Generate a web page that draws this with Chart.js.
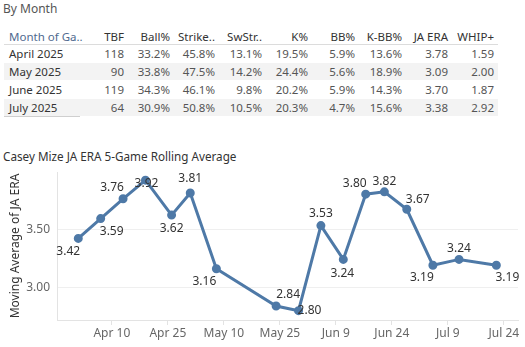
<!DOCTYPE html>
<html>
<head>
<meta charset="utf-8">
<script src="https://cdn.jsdelivr.net/npm/chart.js@4.4.0/dist/chart.umd.min.js"></script>
<style>
  body { margin: 0; width: 525px; height: 347px; overflow: hidden; background: #fff; position: relative; font-family: "Noto Sans", sans-serif; }
  #tituloTabla { position: absolute; left: 3px; top: 0px; font-size: 12px; color: #555; }
  #tabla { position: absolute; left: 0; top: 0; width: 525px; height: 130px; }
  .fila { position: absolute; left: 4px; width: 494px; }
  .celda { position: absolute; font-size: 11.5px; white-space: nowrap; line-height: 17px; }
  #tituloGrafico { position: absolute; left: 3px; top: 148px; font-size: 11.7px; color: #333; }
  #wrap { position: absolute; left: 0; top: 140px; width: 525px; height: 207px; }
</style>
</head>
<body>
<div id="tituloTabla">By Month</div>
<div id="tabla"></div>
<div id="tituloGrafico">Casey Mize JA ERA 5-Game Rolling Average</div>
<div id="wrap"><canvas id="eraChart" width="525" height="207"></canvas></div>

<script>
// Tabla por mes
var encabezados = ['Month of Ga..', 'TBF', 'Ball%', 'Strike..', 'SwStr..', 'K%', 'BB%', 'K-BB%', 'JA ERA', 'WHIP+'];
var meses = ['April 2025', 'May 2025', 'June 2025', 'July 2025'];
var tbf = [118, 90, 119, 64];
var ballPct = [33.2, 33.8, 34.3, 30.9];
var strikePct = [45.8, 47.5, 46.1, 50.8];
var swStrPct = [13.1, 14.2, 9.8, 10.5];
var kPct = [19.5, 24.4, 20.2, 20.3];
var bbPct = [5.9, 5.6, 5.9, 4.7];
var kbbPct = [13.6, 18.9, 14.3, 15.6];
var jaEraMes = [3.78, 3.09, 3.70, 3.38];
var whipPlus = [1.59, 2.00, 1.87, 2.92];

// Grafico: promedio movil de 5 juegos
var fechasJuego = ['Apr 1', 'Apr 7', 'Apr 13', 'Apr 19', 'Apr 26', 'May 1', 'May 8', 'May 24', 'May 30',
  'Jun 5', 'Jun 11', 'Jun 17', 'Jun 22', 'Jun 28', 'Jul 5', 'Jul 12', 'Jul 22'];
var eraMovil = [3.42, 3.59, 3.76, 3.92, 3.62, 3.81, 3.16, 2.84, 2.80, 3.53, 3.24, 3.80, 3.82, 3.67, 3.19, 3.24, 3.19];
var etiquetasX = ['Apr 10', 'Apr 25', 'May 10', 'May 25', 'Jun 9', 'Jun 24', 'Jul 9', 'Jul 24'];
var ticksY = [3.00, 3.50];

var nombresMes = { Jan: 0, Feb: 1, Mar: 2, Apr: 3, May: 4, Jun: 5, Jul: 6, Aug: 7 };
function diaDelAnho(txt) {
  var p = txt.split(' ');
  return (Date.UTC(2025, nombresMes[p[0]], +p[1]) - Date.UTC(2025, 0, 1)) / 86400000 + 1;
}

// Arma la tabla
(function() {
  var tabla = document.getElementById('tabla');
  var bordes = [124, 170, 215, 262, 308, 355, 402, 448, 494];
  function pct(v) { return v.toFixed(1) + '%'; }
  var filas = meses.map(function(m, i) {
    return [m, String(tbf[i]), pct(ballPct[i]), pct(strikePct[i]), pct(swStrPct[i]), pct(kPct[i]),
      pct(bbPct[i]), pct(kbbPct[i]), jaEraMes[i].toFixed(2), whipPlus[i].toFixed(2)];
  });
  function celda(txt, col, top, color) {
    var d = document.createElement('div');
    d.className = 'celda';
    d.textContent = txt;
    d.style.top = top + 'px';
    d.style.color = color;
    if (col === 0) {
      d.style.left = '9px';
    } else {
      d.style.right = (525 - bordes[col - 1]) + 'px';
    }
    tabla.appendChild(d);
  }
  encabezados.forEach(function(h, c) {
    celda(h, c, 28, c === 0 ? '#4f6a8f' : '#333');
  });
  var linea = document.createElement('div');
  linea.style.cssText = 'position:absolute;left:4px;top:44px;width:494px;height:1px;background:#dcdcdc';
  tabla.appendChild(linea);
  filas.forEach(function(f, r) {
    var top = 45 + r * 18;
    var fondo = document.createElement('div');
    fondo.className = 'fila';
    fondo.style.top = top + 'px';
    fondo.style.height = '17px';
    fondo.style.background = r % 2 === 1 ? '#f3f3f3' : '#ffffff';
    tabla.appendChild(fondo);
    f.forEach(function(v, c) {
      celda(v, c, top, c === 0 ? '#333' : '#555');
    });
  });
  var pie = document.createElement('div');
  pie.style.cssText = 'position:absolute;left:4px;top:116px;width:76px;height:1px;background:#cfcfcf';
  tabla.appendChild(pie);
})();

// Desplazamiento de cada etiqueta respecto a su punto
var desplazamientos = [[-10, 13], [11, 13], [-11, -11], [1, 3], [0, 13], [0, -14], [-12, 13], [12, -11], [11, 0],
  [0, -12], [-1, 14], [-11, -11], [0, -10], [11, -10], [-11, 12], [0, -11], [11, 12]];

var etiquetasDatos = {
  id: 'etiquetasDatos',
  afterDatasetsDraw: function(chart) {
    var ctx = chart.ctx;
    var meta = chart.getDatasetMeta(0);
    ctx.save();
    ctx.font = '12px "Noto Sans"';
    ctx.fillStyle = '#333';
    ctx.textAlign = 'center';
    ctx.textBaseline = 'middle';
    meta.data.forEach(function(p, i) {
      var d = desplazamientos[i];
      ctx.fillText(eraMovil[i].toFixed(2), p.x + d[0], p.y + d[1]);
    });
    ctx.restore();
  }
};

var puntos = fechasJuego.map(function(f, i) {
  return { x: diaDelAnho(f), y: eraMovil[i] };
});
var ticksXDias = etiquetasX.map(diaDelAnho);

Chart.defaults.font.family = '"Noto Sans", sans-serif';

var eraChart = new Chart(document.getElementById('eraChart').getContext('2d'), {
  type: 'line',
  data: {
    datasets: [{
      data: puntos,
      borderColor: '#4e79a7',
      backgroundColor: '#4e79a7',
      borderWidth: 3,
      pointRadius: 3,
      pointHoverRadius: 3,
      tension: 0
    }]
  },
  options: {
    responsive: false,
    animation: false,
    layout: { padding: { top: 32, right: 7, left: 0, bottom: 0 } },
    plugins: { legend: { display: false }, tooltip: { enabled: false } },
    scales: {
      x: {
        type: 'linear',
        min: 85.3,
        max: 208.8,
        afterBuildTicks: function(s) {
          s.ticks = ticksXDias.map(function(v) { return { value: v }; });
        },
        afterFit: function(s) { s.height = 27; },
        ticks: {
          autoSkip: false,
          maxRotation: 0,
          padding: 1,
          color: '#666',
          font: { size: 12 },
          callback: function(v) {
            var i = ticksXDias.indexOf(v);
            return i >= 0 ? etiquetasX[i] : '';
          }
        },
        grid: { drawOnChartArea: false, drawTicks: true, tickLength: 5, color: '#e3e3e3' },
        border: { color: '#e3e3e3' }
      },
      y: {
        min: 2.72,
        max: 3.99,
        afterBuildTicks: function(s) {
          s.ticks = ticksY.map(function(v) { return { value: v }; });
        },
        afterFit: function(s) { s.width = 57; },
        ticks: {
          padding: 7,
          color: '#666',
          font: { size: 12 },
          callback: function(v) { return v.toFixed(2); }
        },
        grid: { drawTicks: false, color: '#efefef' },
        border: { color: '#e3e3e3' },
        title: {
          display: true,
          text: 'Moving Average of JA ERA',
          color: '#333',
          font: { size: 12 },
          padding: { top: 8, bottom: 0 }
        }
      }
    }
  },
  plugins: [etiquetasDatos]
});
</script>
</body>
</html>
